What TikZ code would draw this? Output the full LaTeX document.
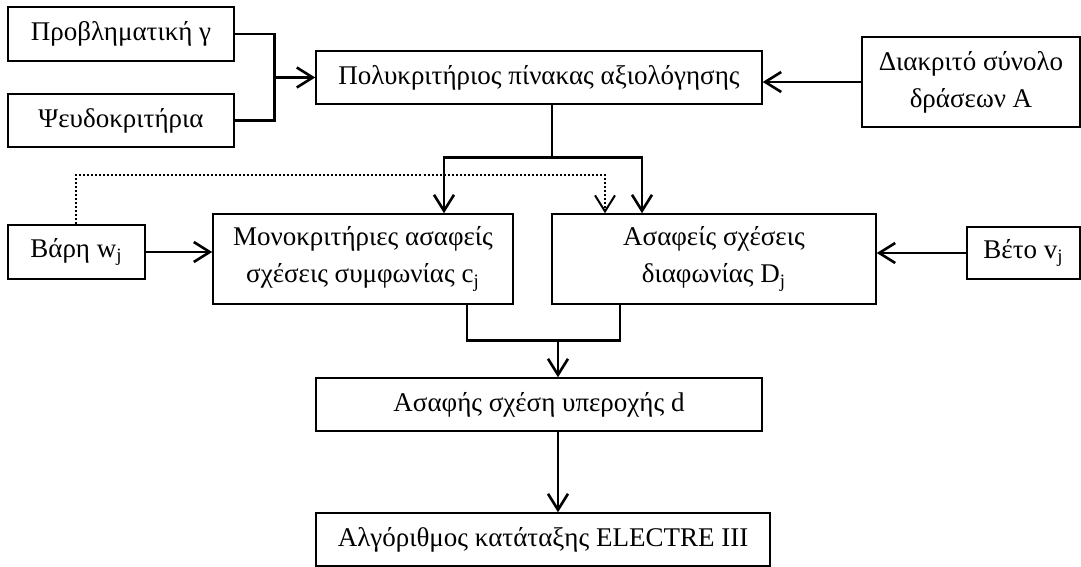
\documentclass[tikz,border=0pt]{standalone}
\usepackage{fontspec}
\setmainfont{Liberation Serif}
\usetikzlibrary{positioning, arrows.meta}

\begin{document}
\begin{tikzpicture}[on grid,
  block/.style={draw, line width=0.75pt, align=center, inner sep=2pt,
    font=\fontsize{13.5}{18.5}\selectfont},
  link/.style={line width=1.3pt},
  arr/.style={link, -{Straight Barb[length=8pt,width=10pt]}},
  weak/.style={line width=1pt, dash pattern=on 1pt off 1pt,
    -{Straight Barb[length=8pt,width=10pt]}}]
\useasboundingbox (-269.5pt,38.75pt) rectangle (271pt,-244.75pt);

\node[block, minimum width=223pt, minimum height=26.5pt] (pol) {Πολυκριτήριος πίνακας αξιολόγησης};
\node[block, minimum width=113pt, minimum height=27pt] (prob) [above left=21.75pt and 209pt of pol] {Προβληματική γ};
\node[block, minimum width=113pt, minimum height=26.5pt] (pseudo) [below left=21.5pt and 209pt of pol] {Ψευδοκριτήρια};
\node[block, minimum width=109pt, minimum height=45pt] (diak) [below right=2.25pt and 216pt of pol] {Διακριτό σύνολο\\δράσεων Α};
\node[block, minimum width=150pt, minimum height=45pt] (mono) [below left=90.75pt and 88pt of pol] {Μονοκριτήριες ασαφείς\\σχέσεις συμφωνίας c\textsubscript{j}};
\node[block, minimum width=162pt, minimum height=45pt] (diaf) [right=175.5pt of mono] {Ασαφείς σχέσεις\\διαφωνίας D\textsubscript{j}};
\node[block, minimum width=68.5pt, minimum height=27pt] (varh) [above left=3.5pt and 143.25pt of mono] {Βάρη w\textsubscript{j}};
\node[block, minimum width=56.5pt, minimum height=26pt] (veto) [above right=3pt and 154.75pt of diaf] {Βέτο v\textsubscript{j}};
\node[block, minimum width=223pt, minimum height=26.5pt] (yper) [below=163.5pt of pol] {Ασαφής σχέση υπεροχής d};
\node[block, minimum width=227pt, minimum height=26.5pt] (elec) [below right=67.5pt and 2pt of yper] {Αλγόριθμος κατάταξης ELECTRE III};

\coordinate (jin) at ([xshift=-20.5pt]pol.west);
\coordinate (split) at ([xshift=6.5pt,yshift=-26.5pt]pol.south);
\coordinate (merge) at ([xshift=9.5pt,yshift=18.5pt]yper.north);

\draw[link] (prob.east) -| (jin) |- (pseudo.east);
\draw[arr] (jin) -- (pol.west);
\draw[arr] (diak.west) -- (diak.west -| pol.east);
\draw[link] (pol.south -| split) -- (split);
\draw[arr] (split) -| ([xshift=40.5pt]mono.north);
\draw[arr] (split) -| ([xshift=-36pt]diaf.north);
\draw[weak] (varh.north) |- ([xshift=-54.5pt,yshift=19pt]diaf.north) -- ([xshift=-54.5pt]diaf.north);
\draw[arr] (varh.east) -- (varh.east -| mono.west);
\draw[arr] (veto.west) -- (veto.west -| diaf.east);
\draw[link] ([xshift=52pt]mono.south) |- (merge) -| ([xshift=-47pt]diaf.south);
\draw[arr] (merge) -- ([xshift=9.5pt]yper.north);
\draw[arr] ([xshift=9.5pt]yper.south) -- ([xshift=9.5pt]yper.south |- elec.north);
\end{tikzpicture}
\end{document}
